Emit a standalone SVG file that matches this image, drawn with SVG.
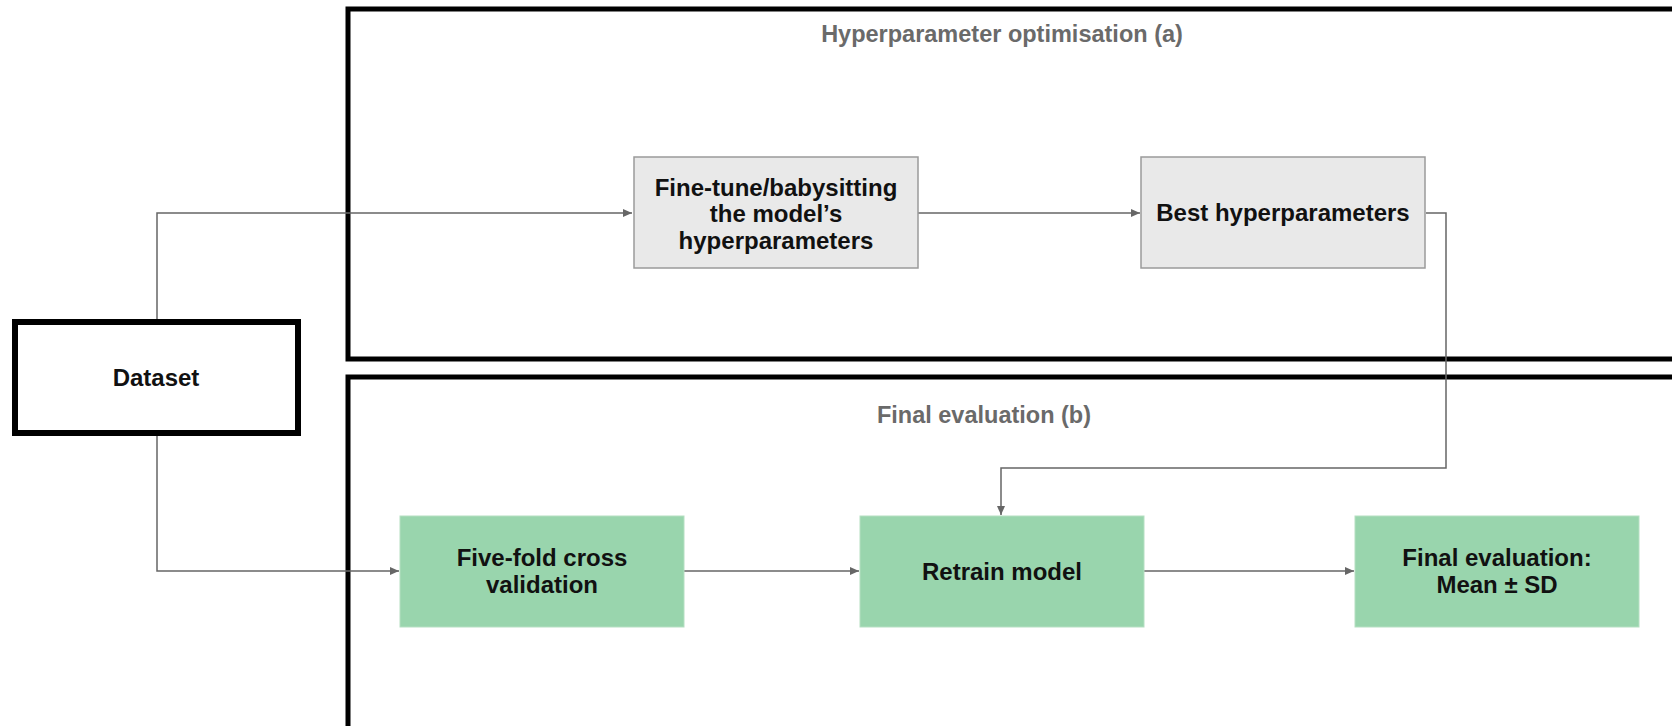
<svg xmlns="http://www.w3.org/2000/svg" width="1672" height="726" viewBox="0 0 1672 726">
<style>
.frame{fill:none;stroke:#000;stroke-width:5}
.grey{fill:#e9e9e9;stroke:#9a9a9a;stroke-width:1.5}
.green{fill:#99d5ad;stroke:#b5dfc2;stroke-width:1}
.lbl{font-family:"Liberation Sans",Arial,sans-serif;font-weight:bold;font-size:24px;fill:#111;text-anchor:middle}
.title{font-family:"Liberation Sans",Arial,sans-serif;font-weight:bold;font-size:23.5px;fill:#6a6a6a;text-anchor:middle}
.conn{fill:none;stroke:#666;stroke-width:1.5}
</style>
<defs>
<marker id="arr" markerWidth="10" markerHeight="10" refX="9" refY="5" orient="auto" markerUnits="userSpaceOnUse">
<path d="M0,1 L9,5 L0,9 Z" fill="#666"/>
</marker>
</defs>
<rect fill="#fff" x="0" y="0" width="1672" height="726"/>
<g id="group-a">
<rect class="frame" x="348" y="9" width="1340" height="350"/>
<text class="title" x="1002" y="42">Hyperparameter optimisation (a)</text>
</g>
<g id="group-b">
<rect class="frame" x="348" y="377" width="1340" height="352"/>
<text class="title" x="984" y="423">Final evaluation (b)</text>
</g>
<g id="connectors">
<polyline class="conn" points="157,320 157,213 632,213" marker-end="url(#arr)"/>
<polyline class="conn" points="157,436 157,571 399,571" marker-end="url(#arr)"/>
<polyline class="conn" points="918,213 1140,213" marker-end="url(#arr)"/>
<polyline class="conn" points="1426,213 1446,213 1446,468 1001,468 1001,515" marker-end="url(#arr)"/>
<polyline class="conn" points="684,571 859,571" marker-end="url(#arr)"/>
<polyline class="conn" points="1144,571 1354,571" marker-end="url(#arr)"/>
</g>
<g id="dataset">
<rect fill="#fff" stroke="#000" stroke-width="6" x="15" y="322" width="283" height="111"/>
<text class="lbl" x="156" y="386">Dataset</text>
</g>
<g id="finetune">
<rect class="grey" x="634" y="157" width="284" height="111"/>
<text class="lbl" x="776" y="196">Fine-tune/babysitting</text>
<text class="lbl" x="776" y="222">the model’s</text>
<text class="lbl" x="776" y="248.5">hyperparameters</text>
</g>
<g id="best">
<rect class="grey" x="1141" y="157" width="284" height="111"/>
<text class="lbl" x="1283" y="221">Best hyperparameters</text>
</g>
<g id="fivefold">
<rect class="green" x="400" y="516" width="284" height="111"/>
<text class="lbl" x="542" y="566">Five-fold cross</text>
<text class="lbl" x="542" y="593">validation</text>
</g>
<g id="retrain">
<rect class="green" x="860" y="516" width="284" height="111"/>
<text class="lbl" x="1002" y="580">Retrain model</text>
</g>
<g id="final">
<rect class="green" x="1355" y="516" width="284" height="111"/>
<text class="lbl" x="1497" y="566">Final evaluation:</text>
<text class="lbl" x="1497" y="593">Mean ± SD</text>
</g>
</svg>
